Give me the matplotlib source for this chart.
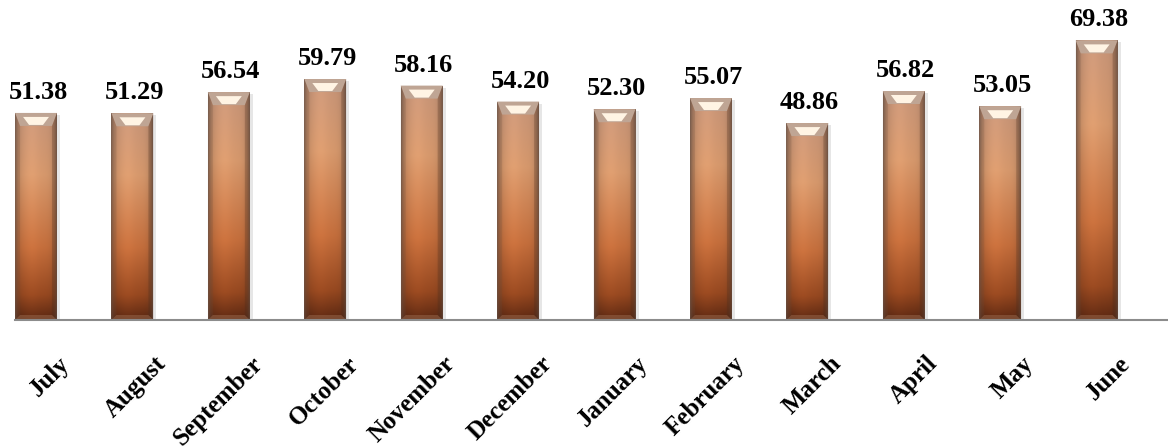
import numpy as np
import matplotlib.pyplot as plt
from matplotlib.patches import Rectangle, Polygon
from matplotlib.transforms import ScaledTranslation

months = ["July", "August", "September", "October", "November", "December",
          "January", "February", "March", "April", "May", "June"]
values = [51.38, 51.29, 56.54, 59.79, 58.16, 54.20,
          52.30, 55.07, 48.86, 56.82, 53.05, 69.38]

W, H, DPI = 11.68, 4.48, 100
fig = plt.figure(figsize=(W, H), dpi=DPI)
ax = fig.add_axes([15 / 1168, 128 / 448, 1153 / 1168, 320 / 448])

xlim = (-0.218, 11.74)
ylim = (0, 79.4)
# pixel -> data conversion, used for the bevel sizes
px_x = (xlim[1] - xlim[0]) / 1153
px_y = (ylim[1] - ylim[0]) / 320

bar_w = 0.435


def body_gradient(n=256, m=64):
    # vertical ramp: muted tan at the top, dark brown at the base
    t = np.linspace(0, 1, n)
    stops = np.array([0.0, 0.3, 0.65, 0.88, 1.0])
    cols = np.array([[198, 148, 120], [214, 152, 108], [196, 110, 60],
                     [150, 72, 32], [92, 40, 18]]) / 255
    rgb = np.stack([np.interp(t, stops, cols[:, k]) for k in range(3)], axis=1)
    img = np.repeat(rgb[:, None, :], m, axis=1)
    # darker, greyer edges across the width, brighter stripe left of centre
    u = np.linspace(-1, 1, m)
    shade = 1 - 0.18 * np.abs(u) ** 4 + 0.05 * np.exp(-((u + 0.2) / 0.35) ** 2)
    img = img * shade[None, :, None]
    grey = np.array([0.42, 0.34, 0.30])
    edge = (np.abs(u) ** 10)[None, :, None] * 0.7
    img = img * (1 - edge) + grey * edge
    return np.clip(img, 0, 1)


grad = body_gradient()

for i, v in enumerate(values):
    x0, x1 = i - bar_w / 2, i + bar_w / 2
    # soft shadow on the right side
    ax.add_patch(Rectangle((x1, 0), 3 * px_x, v - 2 * px_y, color="#c8c8c8",
                           alpha=0.45, lw=0, zorder=1))
    clip = Rectangle((x0, 0), bar_w, v, transform=ax.transData)
    im = ax.imshow(grad, extent=(x0, x1, 0, v), origin="upper",
                   aspect="auto", interpolation="bilinear", zorder=2)
    im.set_clip_path(clip)

    d = 5 * px_x
    cap = 13 * px_y
    # top bevel with its white highlight
    ax.add_patch(Polygon([(x0, v), (x1, v), (x1 - d, v - cap), (x0 + d, v - cap)],
                         closed=True, fc="#bfa594", ec="none", zorder=3))
    ax.add_patch(Polygon([(x0 + 8 * px_x, v - 4 * px_y), (x1 - 8 * px_x, v - 4 * px_y),
                          (x1 - 14 * px_x, v - 12 * px_y), (x0 + 14 * px_x, v - 12 * px_y)],
                         closed=True, fc="#fff4e4", ec="none", zorder=4))
    # side bevels
    ax.add_patch(Polygon([(x0, v), (x0 + d, v - cap), (x0 + d, 4 * px_y), (x0, 0)],
                         closed=True, fc="#6a4a38", alpha=0.18, ec="none", zorder=3))
    ax.add_patch(Polygon([(x1, v), (x1 - d, v - cap), (x1 - d, 4 * px_y), (x1, 0)],
                         closed=True, fc="#4a2a18", alpha=0.25, ec="none", zorder=3))
    # bottom bevel
    ax.add_patch(Polygon([(x0, 0), (x1, 0), (x1 - d, 5 * px_y), (x0 + d, 5 * px_y)],
                         closed=True, fc="#9a6a4e", alpha=0.5, ec="none", zorder=3))

    ax.annotate(f"{v:.2f}", (i, v), xytext=(1.5, 10), textcoords="offset points",
                ha="center", va="baseline", fontsize=19, fontweight="bold",
                family="Liberation Serif", color="black")

# rotated month labels hanging below the axis
off = ScaledTranslation(22 / DPI, -32 / DPI, fig.dpi_scale_trans)
for i, m in enumerate(months):
    ax.text(i, 0, m, transform=ax.transData + off, rotation=45,
            rotation_mode="anchor", ha="right", va="top", fontsize=18,
            fontweight="bold", family="Liberation Serif", color="black")

ax.set_xlim(*xlim)
ax.set_ylim(*ylim)
for s in ("left", "right", "top"):
    ax.spines[s].set_visible(False)
ax.spines["bottom"].set_color("#8c8c8c")
ax.spines["bottom"].set_linewidth(1.5)
ax.spines["bottom"].set_zorder(5)
ax.set_xticks([])
ax.set_yticks([])
ax.patch.set_alpha(0)

fig.savefig("out.png", dpi=DPI)
